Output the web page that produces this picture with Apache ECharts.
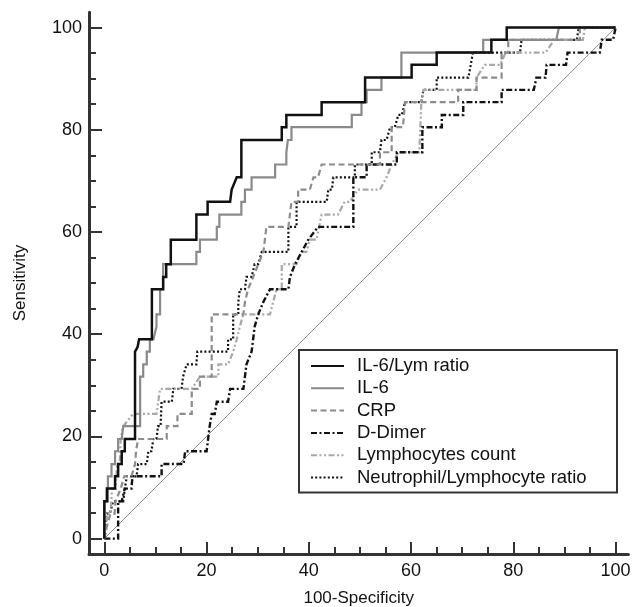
<!DOCTYPE html>
<html><head><meta charset="utf-8">
<script src="https://cdn.jsdelivr.net/npm/echarts@6/dist/echarts.min.js"></script>
<style>html,body{margin:0;padding:0;background:#fff}#c{width:632px;height:607px}</style>
</head><body><div id="c"></div>
<script>
// ---- data (x = 100-Specificity, y = Sensitivity) ----
const seriesNames = ['IL-6/Lym ratio','IL-6','CRP','D-Dimer','Lymphocytes count','Neutrophil/Lymphocyte ratio'];
const xMajorTicks = [0,20,40,60,80,100];
const xMinorTicks = [5,10,15,25,30,35,45,50,55,65,70,75,85,90,95];
const yMajorTicks = [0,20,40,60,80,100];
const yMinorTicks = [5,10,15,25,30,35,45,50,55,65,70,75,85,90,95];
const refLine = [[0,0],[100,100]];

const il6LymRatio = [[0,0],[0,7.3],[0.5,7.3],[0.5,9.8],[2.1,9.8],[2.1,12.2],[2.7,12.2],[2.7,14.6],[3.4,14.6],[3.4,17.1],[4.0,17.1],[4.0,19.5],[6.0,19.5],[6.0,36.6],[6.5,37.5],[6.8,39.0],[9.3,39.0],[9.3,48.8],[11.5,48.8],[11.5,51.2],[12.1,51.2],[12.1,53.7],[13.0,53.7],[13.0,58.5],[18.0,58.5],[18.0,63.4],[20.2,63.4],[20.2,65.9],[24.6,65.9],[24.9,68.3],[25.9,70.7],[26.8,70.7],[26.8,78.0],[34.7,78.0],[34.7,80.5],[35.6,80.5],[35.6,82.9],[42.5,82.9],[42.5,85.4],[51.0,85.4],[51.0,90.2],[60.1,90.2],[60.1,92.7],[65.0,92.7],[65.0,95.1],[75.7,95.1],[75.7,97.6],[78.7,97.6],[78.7,100],[100,100]];

const il6 = [[0,0],[0,7.3],[0.7,7.3],[0.7,12.2],[1.4,12.2],[1.4,14.6],[2.1,14.6],[2.1,17.1],[2.7,17.1],[2.7,19.5],[3.4,19.5],[3.7,22.0],[7.0,22.0],[7.0,31.7],[7.6,31.7],[7.6,34.1],[8.3,34.1],[8.3,36.6],[8.9,36.6],[8.9,39.0],[9.6,39.0],[10.2,41.5],[10.2,43.9],[10.9,43.9],[10.9,48.8],[11.5,48.8],[11.5,53.7],[18.0,53.7],[18.0,56.1],[18.7,56.1],[18.7,58.5],[22.0,58.5],[22.0,61.0],[22.5,61.0],[22.5,63.4],[26.8,63.4],[26.8,65.9],[27.5,65.9],[27.5,68.3],[28.8,68.3],[28.8,70.7],[33.4,70.7],[33.4,73.2],[35.6,73.2],[35.6,75.6],[35.9,75.6],[35.9,78.0],[36.6,78.0],[36.6,80.5],[48.4,80.5],[48.4,82.9],[50.3,82.9],[50.3,85.4],[51.3,85.4],[51.3,87.8],[54.2,87.8],[54.2,90.2],[58.1,90.2],[58.1,95.1],[74.1,95.1],[74.1,97.6],[88.4,97.6],[88.9,100],[100,100]];

const crp = [[0,0],[0.5,2.4],[1.2,4.9],[2.0,4.9],[2.2,7.3],[3.2,9.8],[3.9,12.2],[5.3,12.2],[6.0,14.6],[6.2,17.1],[6.6,19.5],[12.2,19.5],[12.2,22.0],[14.3,22.0],[14.3,24.4],[17.1,24.4],[17.1,29.3],[18.7,29.3],[18.7,31.7],[21.0,31.7],[21.0,43.9],[27.2,43.9],[27.5,46.3],[28.1,48.8],[29.1,51.2],[30.1,53.7],[31.1,56.1],[31.7,61.0],[36.0,61.0],[36.6,65.9],[37.9,65.9],[37.9,68.3],[40.2,68.3],[40.9,70.7],[41.8,70.7],[42.5,73.2],[53.9,73.2],[53.9,75.6],[56.2,75.6],[56.2,80.5],[58.4,80.5],[58.8,85.4],[69.2,85.4],[69.2,87.8],[72.8,87.8],[72.8,90.2],[77.7,90.2],[77.7,95.1],[79.0,95.1],[79.0,97.6],[93.0,97.6],[93.0,100],[100,100]];

const dDimer = [[0,0],[2.7,0],[2.7,7.3],[3.4,7.3],[4.0,9.8],[5.3,9.8],[5.5,12.2],[11.2,12.2],[11.2,14.6],[15.5,14.6],[15.8,17.1],[20.0,17.1],[20.3,19.5],[20.6,22.0],[21.0,24.4],[21.6,24.4],[22.0,26.8],[24.2,26.8],[24.6,29.3],[27.2,29.3],[27.5,31.7],[27.8,34.1],[28.8,36.6],[29.1,39.0],[29.4,41.5],[30.1,43.9],[31.1,46.3],[32.4,48.8],[36.0,48.8],[36.3,51.2],[37.3,53.7],[38.6,56.1],[39.9,58.5],[41.8,61.0],[48.7,61.0],[48.7,70.7],[51.3,70.7],[51.3,73.2],[57.2,73.2],[57.2,75.6],[62.2,75.6],[62.2,80.5],[66.0,80.5],[66.0,82.9],[70.2,82.9],[70.2,85.4],[77.7,85.4],[77.7,87.8],[84.0,87.8],[84.5,90.2],[86.3,90.2],[86.5,92.7],[90.3,92.7],[90.6,95.1],[96.9,95.1],[97.3,97.6],[99.5,97.6],[100,100]];

const lymphocytes = [[0,0],[0.5,2.4],[0.5,4.9],[1.2,4.9],[1.5,9.8],[2.2,9.8],[2.5,14.6],[3.0,14.6],[3.2,19.5],[3.7,22.0],[5.6,24.4],[10.2,24.4],[10.9,29.3],[17.1,29.3],[18.7,31.7],[22.3,31.7],[22.3,34.1],[24.2,34.1],[25.2,36.6],[25.9,39.0],[26.5,41.5],[27.2,43.9],[30.4,43.9],[32.4,43.9],[33.0,46.3],[33.7,48.8],[34.7,48.8],[34.7,53.7],[37.6,53.7],[38.5,56.1],[39.5,56.1],[40.2,58.5],[41.5,58.5],[42.0,61.0],[42.5,63.4],[45.7,63.4],[47.0,65.9],[48.0,65.9],[49.6,68.3],[53.9,68.3],[55.2,70.7],[56.2,73.2],[57.5,75.6],[61.6,75.6],[62.0,85.4],[62.4,87.8],[72.8,87.8],[72.8,90.2],[74.4,92.7],[77.4,92.7],[78.5,95.1],[86.3,95.1],[88.0,97.6],[93.6,97.6],[94.0,100],[100,100]];

const nlRatio = [[0,0],[0.1,2.4],[0.5,4.9],[1.1,4.9],[1.7,7.3],[3.7,7.3],[4.0,9.8],[4.4,12.2],[6.3,12.2],[6.6,14.6],[8.3,14.6],[8.6,17.1],[9.2,17.1],[9.6,19.5],[10.2,19.5],[10.5,22.0],[11.0,22.0],[11.2,26.8],[13.2,26.8],[13.5,29.3],[15.1,29.3],[15.4,31.7],[16.1,34.1],[18.0,34.1],[18.2,36.6],[24.2,36.6],[24.2,39.0],[25.2,39.0],[25.2,43.9],[26.2,43.9],[26.2,46.3],[26.5,48.8],[27.5,48.8],[27.8,51.2],[28.8,51.2],[29.4,53.7],[30.1,53.7],[30.8,56.1],[36.0,56.1],[36.0,61.0],[37.6,61.0],[37.6,65.9],[43.5,65.9],[43.8,68.3],[44.5,68.3],[44.8,70.7],[49.0,70.7],[49.0,73.2],[52.3,73.2],[52.3,75.6],[53.9,75.6],[54.2,78.0],[55.2,78.0],[55.9,80.5],[56.8,80.5],[57.5,82.9],[58.2,82.9],[58.8,85.4],[62.0,85.4],[62.4,87.8],[65.0,87.8],[65.0,90.2],[71.2,90.2],[72.1,95.1],[81.3,95.1],[81.6,97.6],[92.4,97.6],[92.8,100],[100,100]];

// ---- chart ----
const FONT = "'Liberation Sans', Arial, Helvetica, sans-serif";
const AX = '#333';
function valueAxis(extra) {
  return Object.assign({
    type: 'value', min: -3, splitLine: {show: false},
    axisLine: {show: true, onZero: false, lineStyle: {color: AX, width: 3}}
  }, extra);
}
const chart = echarts.init(document.getElementById('c'), null, {renderer: 'canvas'});
const lineSeries = (name, data, color, width, type) => ({
  name, type: 'line', data, xAxisIndex: 0, yAxisIndex: 0, symbol: 'none', showSymbol: false,
  lineStyle: {color, width, type, cap: 'butt', join: 'miter'}, itemStyle: {color},
  animation: false, silent: true, z: 3
});
chart.setOption({
  animation: false,
  textStyle: {fontFamily: FONT},
  grid: {left: 89, right: 3.6, top: 12.2, bottom: 53, containLabel: false, outerBoundsMode: 'none'},
  xAxis: [
    valueAxis({max: 102.5, position: 'bottom',
      axisTick: {show: true, inside: true, length: 12, customValues: xMajorTicks, lineStyle: {color: AX, width: 2}},
      axisLabel: {customValues: xMajorTicks, fontSize: 18, color: '#111', margin: 8, fontFamily: FONT},
      name: '100-Specificity', nameLocation: 'middle', nameGap: 36,
      nameTextStyle: {fontSize: 17, color: '#111', fontFamily: FONT}}),
    valueAxis({max: 102.5, position: 'bottom', axisLine: {show: false, onZero: false},
      axisTick: {show: true, inside: true, length: 7, customValues: xMinorTicks, lineStyle: {color: AX, width: 2}},
      axisLabel: {show: false}})
  ],
  yAxis: [
    valueAxis({max: 103, position: 'left',
      axisTick: {show: true, inside: true, length: 13, customValues: yMajorTicks, lineStyle: {color: AX, width: 2}},
      axisLabel: {customValues: yMajorTicks, fontSize: 18, color: '#111', margin: 7, fontFamily: FONT},
      name: 'Sensitivity', nameLocation: 'middle', nameGap: 60, nameRotate: 90,
      nameTextStyle: {fontSize: 17, color: '#111', fontFamily: FONT}}),
    valueAxis({max: 103, position: 'left', axisLine: {show: false, onZero: false},
      axisTick: {show: true, inside: true, length: 7, customValues: yMinorTicks, lineStyle: {color: AX, width: 2}},
      axisLabel: {show: false}})
  ],
  legend: {
    data: seriesNames, orient: 'vertical', left: 299, top: 350,
    padding: [5, 8, 4, 11], itemWidth: 33, itemHeight: 14, itemGap: 0.3,
    borderColor: '#333', borderWidth: 2, backgroundColor: '#fff',
    selectedMode: false,
    itemStyle: {opacity: 0, borderWidth: 0},
    textStyle: {fontSize: 18.5, color: '#111', lineHeight: 22, width: 252, padding: [0, 0, 0, 8], fontFamily: FONT}
  },
  series: [
    {type: 'line', data: refLine, symbol: 'none', silent: true, z: 2,
     lineStyle: {color: '#888', width: 1}, animation: false},
    lineSeries(seriesNames[5], nlRatio, '#111', 2.2, [2, 2.2]),
    lineSeries(seriesNames[4], lymphocytes, '#a8a8a8', 2.2, [6, 2.5, 2, 2.5, 2, 2.5]),
    lineSeries(seriesNames[3], dDimer, '#111', 2.4, [6, 2.5, 2, 2.5]),
    lineSeries(seriesNames[2], crp, '#8c8c8c', 2.2, [6, 3.5]),
    lineSeries(seriesNames[1], il6, '#8a8a8a', 2.2, 'solid'),
    lineSeries(seriesNames[0], il6LymRatio, '#111', 2.5, 'solid')
  ]
});
</script>
</body></html>
